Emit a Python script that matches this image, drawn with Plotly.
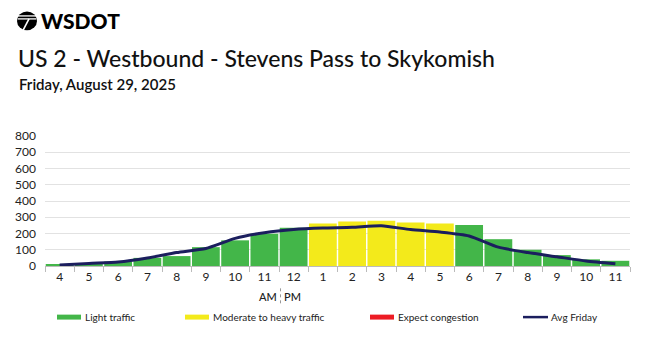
import plotly.graph_objects as go

# ---- data ----
hour_labels = ["4", "5", "6", "7", "8", "9", "10", "11", "12",
               "1", "2", "3", "4", "5", "6", "7", "8", "9", "10", "11"]
volumes = [10, 15, 28, 50, 61, 116, 158, 199, 236,
           262, 274, 278, 268, 262, 252, 165, 100, 67, 41, 32]
status = ["light"] * 9 + ["moderate"] * 5 + ["light"] * 6
avg_friday = [6, 16, 24, 49, 83, 108, 170, 205, 225,
              234, 238, 248, 224, 209, 185, 116, 83, 57, 31, 14]
y_ticks = [0, 100, 200, 300, 400, 500, 600, 700, 800]

legend_items = [("Light traffic", "light"), ("Moderate to heavy traffic", "moderate"),
                ("Expect congestion", "heavy"), ("Avg Friday", "avg")]

colors = {"light": "#43b649", "moderate": "#f3ea1b", "heavy": "#ed1c24", "avg": "#1b1e5e"}

FONT = "Lato"
W, H = 650, 337
L, R, T, B = 45, 630, 135.5, 266.5


def px(x):
    return (x - L) / (R - L)


def py(y):
    return (B - y) / (B - T)


x_idx = list(range(len(hour_labels)))

fig = go.Figure()
fig.add_trace(go.Bar(
    x=x_idx, y=volumes,
    marker=dict(color=[colors[s] for s in status], line=dict(width=0)),
    showlegend=False, hoverinfo="y"))
fig.add_trace(go.Scatter(
    x=x_idx, y=avg_friday, mode="lines",
    line=dict(color=colors["avg"], width=3, shape="spline", smoothing=0.6),
    showlegend=False))

annotations = []
shapes = []

# logo
shapes.append(dict(type="circle", xref="paper", yref="paper",
                   x0=px(17), x1=px(37), y0=py(29), y1=py(10),
                   fillcolor="black", line=dict(width=0), layer="above"))
for yy in (14.5, 17.5):
    shapes.append(dict(type="line", xref="paper", yref="paper",
                       x0=px(18), x1=px(36), y0=py(yy), y1=py(yy),
                       line=dict(color="white", width=1.3), layer="above"))
shapes.append(dict(type="line", xref="paper", yref="paper",
                   x0=px(29), x1=px(23), y0=py(17.5), y1=py(29),
                   line=dict(color="white", width=1.6), layer="above"))
annotations.append(dict(text="WSDOT", xref="paper", yref="paper",
                        x=px(39), y=py(19.5), xanchor="left", yanchor="middle",
                        showarrow=False,
                        font=dict(family=FONT, size=21, color="black", weight=900)))

annotations.append(dict(text="US 2 - Westbound - Stevens Pass to Skykomish",
                        xref="paper", yref="paper", x=px(16), y=py(57),
                        xanchor="left", yanchor="middle", showarrow=False,
                        font=dict(family=FONT, size=23, color="#111", weight=500)))
annotations.append(dict(text="Friday, August 29, 2025",
                        xref="paper", yref="paper", x=px(17), y=py(83),
                        xanchor="left", yanchor="middle", showarrow=False,
                        font=dict(family=FONT, size=15, color="#111", weight=600)))

# AM | PM
annotations.append(dict(text="AM", xref="paper", yref="paper", x=px(279), y=py(297.5),
                        xanchor="right", yanchor="middle", showarrow=False,
                        font=dict(family=FONT, size=11, color="#222", weight=500)))
annotations.append(dict(text="PM", xref="paper", yref="paper", x=px(282), y=py(297.5),
                        xanchor="left", yanchor="middle", showarrow=False,
                        font=dict(family=FONT, size=11, color="#222", weight=500)))
shapes.append(dict(type="line", xref="paper", yref="paper",
                   x0=px(280.5), x1=px(280.5), y0=py(289), y1=py(305),
                   line=dict(color="#999", width=1, dash="dot")))

# legend
leg_x = [57, 185, 370, 523]
for (label, key), lx in zip(legend_items, leg_x):
    if key == "avg":
        shapes.append(dict(type="line", xref="paper", yref="paper",
                           x0=px(lx), x1=px(lx + 25), y0=py(318), y1=py(318),
                           line=dict(color=colors[key], width=2.5)))
    else:
        shapes.append(dict(type="rect", xref="paper", yref="paper",
                           x0=px(lx), x1=px(lx + 24), y0=py(320.5), y1=py(315.5),
                           fillcolor=colors[key], line=dict(width=0)))
    annotations.append(dict(text=label, xref="paper", yref="paper",
                            x=px(lx + 26), y=py(318), xanchor="left", yanchor="middle",
                            showarrow=False,
                            font=dict(family=FONT, size=10, color="#222")))

fig.update_layout(
    width=W, height=H,
    margin=dict(l=L, r=W - R, t=T, b=H - B, pad=0),
    paper_bgcolor="white", plot_bgcolor="white",
    bargap=0.05,
    showlegend=False,
    font=dict(family=FONT, size=12, color="#222"),
    xaxis=dict(
        range=[-0.5, len(hour_labels) - 0.5],
        tickmode="array", tickvals=x_idx, ticktext=hour_labels,
        ticks="", ticklen=0, showgrid=False, zeroline=False,
        showline=True, linecolor="#bbbbbb", linewidth=1,
        tickfont=dict(family=FONT, size=12, color="#222"),
        minor=dict(tickmode="array", tickvals=[i - 0.5 for i in range(len(hour_labels) + 1)],
                   ticks="outside", ticklen=5, tickcolor="#bbbbbb", showgrid=False),
        fixedrange=True,
    ),
    yaxis=dict(
        range=[0, 800], tickmode="array", tickvals=y_ticks,
        ticks="", showline=False, zeroline=False,
        showgrid=True, gridcolor="#e2e2e2", gridwidth=1,
        tickfont=dict(family=FONT, size=12, color="#222"),
        ticklabelstandoff=8,
        fixedrange=True,
    ),
    annotations=annotations,
    shapes=shapes,
)

fig.write_html("out.html")
